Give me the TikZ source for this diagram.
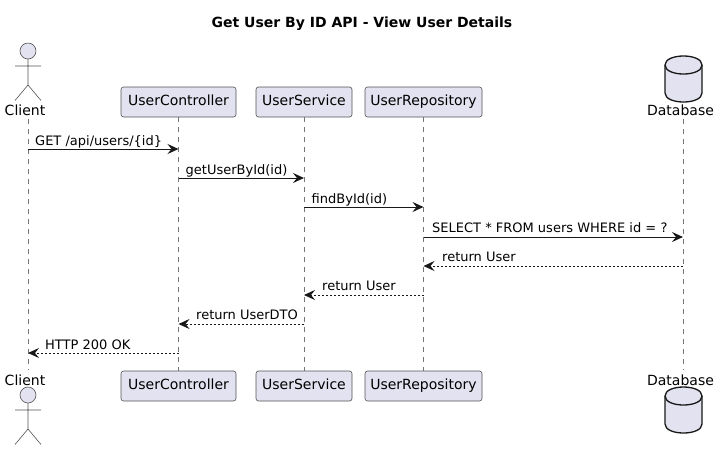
\documentclass[tikz,border=0pt]{standalone}
\usepackage{fontspec}
\setmainfont{DejaVu Sans}
\usetikzlibrary{arrows.meta}
\definecolor{boxfill}{HTML}{E2E2F0}
\definecolor{ink}{HTML}{181818}
\tikzset{
  partbox/.style={draw=ink!75,line width=.6pt,fill=boxfill,rounded corners=2.5pt,minimum height=30pt,inner xsep=0pt,inner ysep=0pt,text height=10.5pt,text depth=3pt,font=\fontsize{14}{16}\selectfont,text=black},
  parttext/.style={inner sep=0pt,font=\fontsize{14}{16}\selectfont,text=black},
  lifeline/.style={draw=ink!60,line width=.6pt,dash pattern=on 5pt off 5pt},
  msgline/.style={draw=ink,line width=1pt,-{Stealth[length=11pt,width=10pt,inset=4pt]}},
  backline/.style={msgline,dash pattern=on 2pt off 2pt},
  msgtext/.style={inner sep=0pt,anchor=base west,font=\fontsize{13}{15}\selectfont,text=black},
}
% actor with the head centre at #1
\def\actor#1{
\draw[ink!75,line width=.6pt,fill=boxfill] #1 circle (8);
\draw[ink!75,line width=.6pt] #1 ++(0,8) -- ++(0,26) ++(-13,-19) -- ++(26,0) ++(-13,19) -- ++(-13,15.5) ++(13,-15.5) -- ++(13,15.5);
}
% database with the top left corner at #1
\def\database#1{
\begin{scope}[shift={#1},line width=1.3pt,draw=ink]
\draw[fill=boxfill] (0,9) .. controls (0,-3) and (37,-3) .. (37,9) -- (37,37) .. controls (37,49) and (0,49) .. (0,37) -- cycle;
\draw (0,9) .. controls (0,21) and (37,21) .. (37,9);
\end{scope}
}
\begin{document}
\begin{tikzpicture}[x=1pt,y=-1pt]
\useasboundingbox (0,0) rectangle (720,451);
\node[inner sep=0pt,font=\bfseries\fontsize{14}{16}\selectfont] (title) at (362,24) {Get User By ID API - View User Details};

\node[parttext] (clientT) at (25,110) {Client};
\node[partbox,minimum width=115pt] (ctrlT) at (178.5,102) {UserController};
\node[partbox,minimum width=96pt] (servT) at (304,102) {UserService};
\node[partbox,minimum width=117pt] (repoT) at (423.5,102) {UserRepository};
\node[parttext] (dbT) at (680.5,110) {Database};

\node[parttext] (clientB) at (25,380) {Client};
\node[partbox,minimum width=115pt] (ctrlB) at (178.5,386) {UserController};
\node[partbox,minimum width=96pt] (servB) at (304,386) {UserService};
\node[partbox,minimum width=117pt] (repoB) at (423.5,386) {UserRepository};
\node[parttext] (dbB) at (680.5,380) {Database};

\coordinate (clientA) at (28,119);
\coordinate (clientZ) at (28,370);
\coordinate (dbA) at (683,119);
\coordinate (dbZ) at (683,370);

\draw[lifeline] (clientA) -- (clientZ);
\draw[lifeline] (ctrlT) -- (ctrlB);
\draw[lifeline] (servT) -- (servB);
\draw[lifeline] (repoT) -- (repoB);
\draw[lifeline] (dbA) -- (dbZ);

\actor{(28,51)}
\actor{(28,395)}
\database{(665,56)}
\database{(665,387)}

\coordinate (c1) at (28,149);
\coordinate (u1) at (178.5,149);
\coordinate (u2) at (178.5,178);
\coordinate (s2) at (304,178);
\coordinate (s3) at (304,207);
\coordinate (r3) at (423.5,207);
\coordinate (r4) at (423.5,237);
\coordinate (d4) at (683,237);
\coordinate (d5) at (683,266);
\coordinate (r5) at (423.5,266);
\coordinate (r6) at (423.5,295);
\coordinate (s6) at (304,295);
\coordinate (s7) at (304,324);
\coordinate (u7) at (178.5,324);
\coordinate (u8) at (178.5,353);
\coordinate (c8) at (28,353);

\draw[msgline] (c1) -- (u1);
\draw[msgline] (u2) -- (s2);
\draw[msgline] (s3) -- (r3);
\draw[msgline] (r4) -- (d4);
\draw[backline] (d5) -- (r5);
\draw[backline] (r6) -- (s6);
\draw[backline] (s7) -- (u7);
\draw[backline] (u8) -- (c8);

\node[msgtext] (m1) at (35,145) {GET /api/users/\{id\}};
\node[msgtext] (m2) at (185.5,174) {getUserById(id)};
\node[msgtext] (m3) at (311.5,203) {findById(id)};
\node[msgtext] (m4) at (432,232.5) {SELECT * FROM users WHERE id = ?};
\node[msgtext] (m5) at (442,261.5) {return User};
\node[msgtext] (m6) at (322,290.5) {return User};
\node[msgtext] (m7) at (196,319.5) {return UserDTO};
\node[msgtext] (m8) at (45,349) {HTTP 200 OK};
\end{tikzpicture}
\end{document}
